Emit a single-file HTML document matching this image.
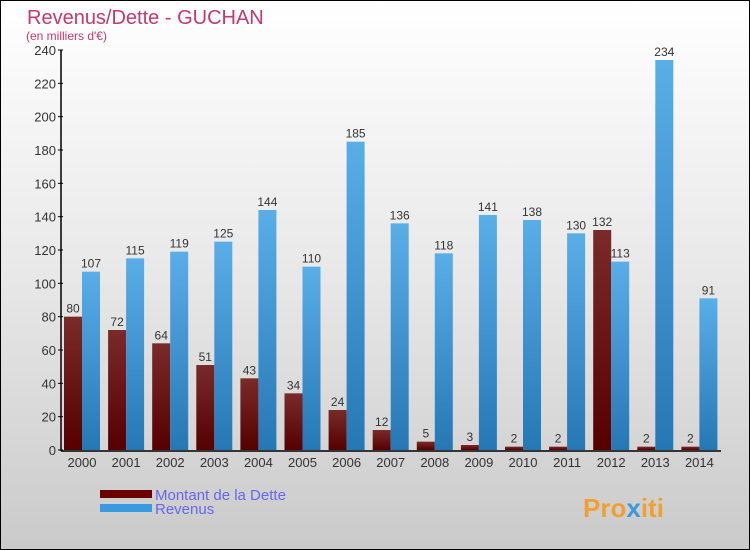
<!DOCTYPE html>
<html><head><meta charset="utf-8"><style>
body{margin:0}
#c{position:relative;width:748px;height:548px;border:1px solid #000;background:linear-gradient(#fff,#e8e8e8 50%,#cacaca);font-family:"Liberation Sans",sans-serif;overflow:hidden}
</style></head><body>
<div id="c">
<svg id="s" width="748" height="548">
<defs>
<linearGradient id="gd" x1="0" y1="0" x2="0" y2="1"><stop offset="0" stop-color="#7a2a2a"/><stop offset="1" stop-color="#560000"/></linearGradient>
<linearGradient id="gr" x1="0" y1="0" x2="0" y2="1"><stop offset="0" stop-color="#5aaee8"/><stop offset="1" stop-color="#2678b4"/></linearGradient>
</defs>
<text x="26" y="23" font-size="20" fill="#c8386a">Revenus/Dette - GUCHAN</text>
<text x="25" y="39" font-size="12" fill="#c8386a">(en milliers d'€)</text>
<g id="g"></g>
<rect x="99" y="489" width="52" height="8" fill="#6a0000"/>
<rect x="99" y="503" width="52" height="8" fill="#3a9ae0"/>
<text x="154" y="499" font-size="15" fill="#6666ee">Montant de la Dette</text>
<text x="154" y="513" font-size="15" fill="#6666ee">Revenus</text>
<text x="582" y="516" font-size="26" font-weight="bold" fill="#f0a030">Pro<tspan fill="#3a9ae0">x</tspan>iti</text>
</svg>
</div>
<script>
const years=["2000","2001","2002","2003","2004","2005","2006","2007","2008","2009","2010","2011","2012","2013","2014"];
const dette=[80,72,64,51,43,34,24,12,5,3,2,2,132,2,2];
const revenus=[107,115,119,125,144,110,185,136,118,141,138,130,113,234,91];
const ticks=[0,20,40,60,80,100,120,140,160,180,200,220,240];
const NS="http://www.w3.org/2000/svg";
const g=document.getElementById('g');
const y=v=>449-v*400/240;
const x=i=>81+i*44.1;
function mk(t,a,txt){const e=document.createElementNS(NS,t);for(const k in a)e.setAttribute(k,a[k]);if(txt!==undefined)e.textContent=txt;g.appendChild(e);return e;}
ticks.forEach(t=>{
 const l=mk('line',{x1:57,x2:62,y1:y(t),y2:y(t),stroke:'#000'});
 
 
 const tx=mk('text',{x:55,y:y(t)+5,'font-size':13,fill:'#333','text-anchor':'end'},t);
 
 
});
years.forEach((yr,i)=>{
 const cx=x(i);
 const b1=mk('rect',{x:cx-18,y:y(dette[i]),width:18,height:449-y(dette[i]),fill:'url(#gd)'});
 
 
 const b2=mk('rect',{x:cx,y:y(revenus[i]),width:18,height:449-y(revenus[i]),fill:'url(#gr)'});
 
 
 const t1=mk('text',{x:cx-9,y:y(dette[i])-4,'font-size':12,fill:'#333','text-anchor':'middle'},dette[i]);
 
 
 const t2=mk('text',{x:cx+9,y:y(revenus[i])-4,'font-size':12,fill:'#333','text-anchor':'middle'},revenus[i]);
 
 
 const xl=mk('text',{x:cx,y:466,'font-size':13,fill:'#333','text-anchor':'middle'},yr);
 
 
});
const ax=mk('line',{x1:60,x2:60,y1:y(240),y2:450,stroke:'#000','stroke-width':1.5});


const bx=mk('line',{x1:60,x2:720,y1:450,y2:450,stroke:'#000','stroke-width':1.5});


</script>
</body></html>
